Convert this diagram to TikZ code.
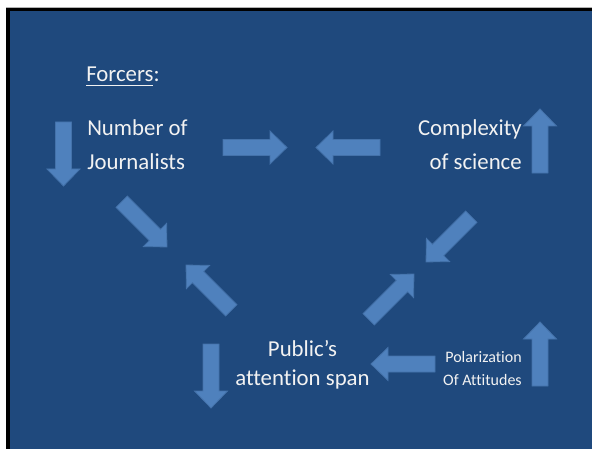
\documentclass[tikz,border=0pt]{standalone}
\usepackage{fontspec}
\setmainfont[Ligatures=NoCommon]{Carlito}
\definecolor{slideblue}{HTML}{1F497D}
\definecolor{arrowfill}{HTML}{4F81BD}
\definecolor{arrowline}{HTML}{4472AA}
\definecolor{txt}{HTML}{F2F2F2}
\tikzset{
  blockarrow/.style={fill=arrowfill,draw=arrowline,line width=0.6pt,line join=miter},
  bigtxt/.style={text=txt,inner sep=0pt,font=\fontsize{17.1}{20}\selectfont},
  smalltxt/.style={text=txt,inner sep=0pt,font=\fontsize{12}{14}\selectfont}
}
\newcommand\myblockarrow[3]{%
  \draw[blockarrow,shift={(#1,#2)},rotate=#3]
    (0,-8) -- (47,-8) -- (47,-16.5) -- (64,0) -- (47,16.5) -- (47,8) -- (0,8) -- cycle;}
\begin{document}
\begin{tikzpicture}[x=0.75pt,y=-0.75pt]
\useasboundingbox (0,0) rectangle (592,449);
\fill[white] (0,0) rectangle (592,449);
\fill[gray!60] (6,7) rectangle (592,449);
\fill[black] (6,8) rectangle (592,449);
\fill[slideblue] (10,11) rectangle (592,449);
% texts
\node[bigtxt,anchor=base west] (forcers) at (86,82) {Forcers:};
\draw[txt,line width=1pt] (86,85.5) -- (153,85.5);
\node[bigtxt,anchor=base west] (num1) at (87,136) {Number of};
\node[bigtxt,anchor=base west] (num2) at (87,170) {Journalists};
\node[bigtxt,anchor=base east] (comp1) at (522,136) {Complexity};
\node[bigtxt,anchor=base east] (comp2) at (522,170) {of science};
\node[bigtxt,anchor=base] (pub1) at (302.5,356) {Public’s};
\node[bigtxt,anchor=base] (pub2) at (302.5,385) {attention span};
\node[smalltxt,anchor=base east] (pol1) at (522,362) {Polarization};
\node[smalltxt,anchor=base east] (pol2) at (522,385) {Of Attitudes};
% arrows
\myblockarrow{63.5}{122}{-90}
\myblockarrow{223}{147.5}{0}
\myblockarrow{380}{147.5}{180}
\myblockarrow{540}{173}{90}
\myblockarrow{121.7}{201.7}{-45}
\myblockarrow{231.3}{310.3}{135}
\myblockarrow{211}{344}{-90}
\myblockarrow{368.7}{319.3}{45}
\myblockarrow{471.3}{216.7}{-135}
\myblockarrow{435}{364}{180}
\myblockarrow{540}{386}{90}
\end{tikzpicture}
\end{document}
